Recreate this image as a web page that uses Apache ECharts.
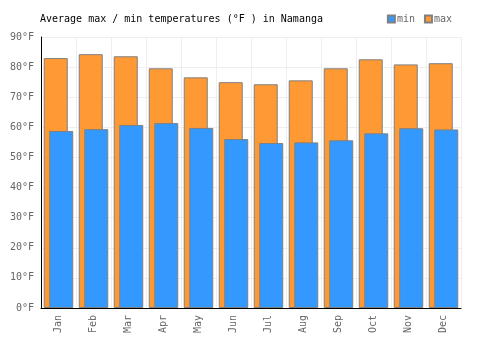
<!DOCTYPE html>
<html>
<head>
<meta charset="utf-8">
<script src="https://cdn.jsdelivr.net/npm/echarts@6/dist/echarts.min.js"></script>
<style>
  body { margin: 0; background: #fff; }
  #chart { width: 500px; height: 350px; }
</style>
</head>
<body>
<div id="chart"></div>
<script>
// monthly averages, °F
var months = ['Jan', 'Feb', 'Mar', 'Apr', 'May', 'Jun', 'Jul', 'Aug', 'Sep', 'Oct', 'Nov', 'Dec'];
var maxTemps = [83, 84.3, 83.6, 79.6, 76.6, 75, 74.3, 75.6, 79.6, 82.6, 80.9, 81.3];
var minTemps = [58.8, 59.4, 60.8, 61.4, 59.8, 56.1, 54.8, 55, 55.7, 58, 59.7, 59.3];

var font = 'DejaVu Sans Mono';
var chart = echarts.init(document.getElementById('chart'));
chart.setOption({
  animation: false,
  title: {
    text: 'Average max / min temperatures (°F ) in Namanga',
    left: 35,
    top: 9,
    textStyle: { fontFamily: font, fontSize: 10, fontWeight: 'normal', color: '#000' }
  },
  legend: {
    data: ['min', 'max'],
    right: 43,
    top: 9,
    icon: 'rect',
    itemWidth: 7,
    itemHeight: 7,
    itemGap: 9,
    textStyle: { fontFamily: font, fontSize: 10, color: '#666', padding: [0, 0, 0, -3] }
  },
  grid: { left: 41, right: 39, top: 37, bottom: 42 },
  xAxis: {
    type: 'category',
    data: months,
    axisLine: { lineStyle: { color: '#000', width: 1 } },
    axisTick: { show: false },
    axisLabel: { rotate: 90, fontFamily: font, fontSize: 10, color: '#666', margin: 7 },
    splitLine: { show: true, lineStyle: { color: '#eeeeee' } }
  },
  yAxis: {
    type: 'value',
    min: 0,
    max: 90,
    interval: 10,
    axisLine: { show: true, lineStyle: { color: '#000', width: 1 } },
    axisTick: { show: false },
    axisLabel: { formatter: '{value}°F', fontFamily: font, fontSize: 10, color: '#666', margin: 7 },
    splitLine: { lineStyle: { color: '#eeeeee' } }
  },
  series: [
    {
      name: 'max',
      type: 'bar',
      data: maxTemps,
      barWidth: 24,
      itemStyle: { color: '#ff9933', borderColor: '#808080', borderWidth: 1 }
    },
    {
      name: 'min',
      type: 'bar',
      data: minTemps,
      barWidth: 24,
      barGap: '-77%',
      itemStyle: { color: '#3399ff', borderColor: '#808080', borderWidth: 1 }
    }
  ]
});
</script>
</body>
</html>
